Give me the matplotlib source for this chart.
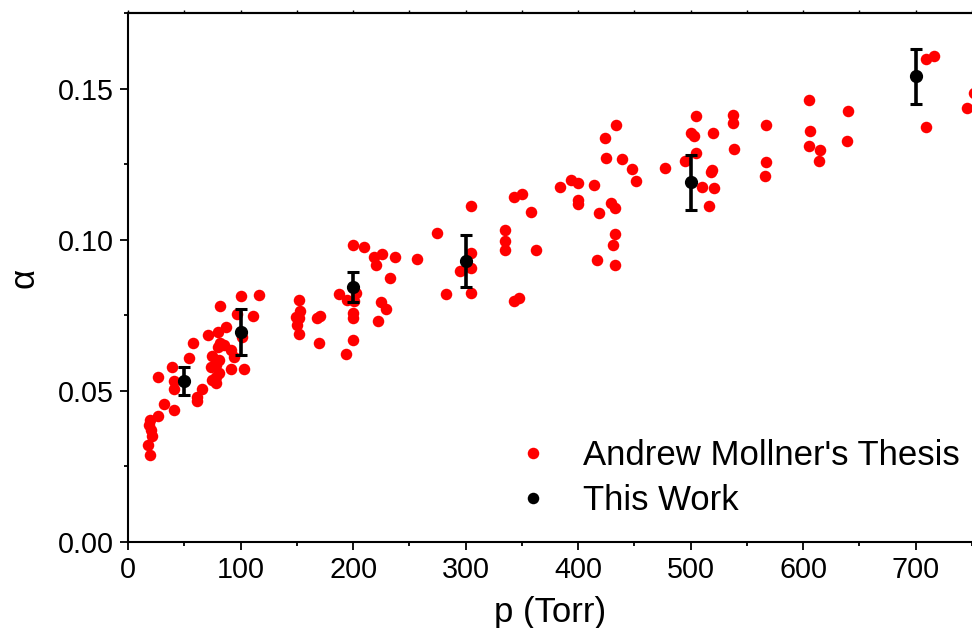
import matplotlib
matplotlib.use("Agg")
import matplotlib.pyplot as plt
from matplotlib.lines import Line2D
from matplotlib.ticker import MultipleLocator, FormatStrFormatter

plt.rcParams['font.family'] = ['Liberation Sans', 'DejaVu Sans']

# Mollner thesis data: pressure (Torr) and alpha
thesis_p = [
    100.1, 116.3, 81.7, 96.5, 111.4, 86.8, 79.9, 71.0, 101.6, 57.7,
    81.7, 91.2, 75.0, 54.2, 94.1, 80.8, 73.4, 91.2, 103.0, 39.4,
    26.6, 40.9, 77.9, 77.9, 40.9, 66.1, 61.6, 61.6, 32.0, 40.9,
    26.6, 19.5, 18.6, 20.8, 21.7, 17.8, 19.5, 77.9, 79.9, 85.3,
    75.0, 80.8,
    151.9, 152.8, 148.9, 151.9, 150.4, 151.9, 167.6, 170.2, 169.6,
    199.8, 209.6, 225.6, 218.5, 237.1, 256.8, 220.0, 232.4, 187.4, 194.8,
    202.2, 200.9, 224.4, 229.7, 200.2, 200.2, 222.4, 200.2, 193.3,
    274.8, 305.0, 305.0, 294.8, 305.0, 282.2, 304.4,
    335.4, 335.4, 335.4, 363.0, 342.8, 347.2, 342.8, 350.1, 358.5,
    383.6, 394.0, 400.0, 413.9, 399.8, 399.8, 423.6, 433.7, 424.7, 439.3,
    447.6, 451.8, 429.1, 433.1, 418.3, 433.1, 431.3, 416.9, 433.1,
    476.9, 494.7, 504.8, 500.6, 503.3, 504.8, 519.7, 510.1, 521.0, 518.8,
    517.9, 516.0,
    537.7, 537.7, 538.8, 567.0, 567.0, 565.7,
    604.8, 605.7, 604.8, 615.2, 614.0, 639.8, 639.2,
    709.3, 715.8, 709.3, 752.0, 746.0,
]
thesis_alpha = [
    0.0813, 0.0817, 0.0780, 0.0756, 0.0748, 0.0712, 0.0695, 0.0685, 0.0679, 0.0660,
    0.0659, 0.0635, 0.0615, 0.0609, 0.0613, 0.0602, 0.0578, 0.0574, 0.0574, 0.0578,
    0.0547, 0.0533, 0.0547, 0.0525, 0.0508, 0.0505, 0.0480, 0.0467, 0.0456, 0.0437,
    0.0417, 0.0403, 0.0387, 0.0370, 0.0351, 0.0321, 0.0288, 0.0585, 0.0646, 0.0651,
    0.0536, 0.0558,
    0.0800, 0.0766, 0.0745, 0.0743, 0.0718, 0.0688, 0.0743, 0.0747, 0.0659,
    0.0984, 0.0977, 0.0952, 0.0943, 0.0942, 0.0937, 0.0916, 0.0875, 0.0822, 0.0802,
    0.0824, 0.0797, 0.0793, 0.0770, 0.0757, 0.0740, 0.0731, 0.0670, 0.0622,
    0.1024, 0.1111, 0.0956, 0.0897, 0.0906, 0.0822, 0.0825,
    0.1032, 0.0995, 0.0966, 0.0966, 0.0798, 0.0806, 0.1142, 0.1152, 0.1092,
    0.1174, 0.1197, 0.1189, 0.1181, 0.1131, 0.1120, 0.1336, 0.1380, 0.1271, 0.1268,
    0.1236, 0.1195, 0.1122, 0.1104, 0.1089, 0.1019, 0.0982, 0.0935, 0.0918,
    0.1238, 0.1262, 0.1410, 0.1354, 0.1344, 0.1289, 0.1355, 0.1176, 0.1173, 0.1232,
    0.1225, 0.1113,
    0.1412, 0.1387, 0.1302, 0.1379, 0.1257, 0.1210,
    0.1464, 0.1361, 0.1310, 0.1299, 0.1261, 0.1426, 0.1327,
    0.1600, 0.1610, 0.1373, 0.1486, 0.1438,
]

# Present measurements with uncertainties
work_p = [50, 100, 200, 300, 500, 700]
work_alpha = [0.0533, 0.0695, 0.0844, 0.0929, 0.1190, 0.1541]
work_err = [0.0047, 0.0076, 0.0051, 0.0086, 0.0090, 0.0090]

W, H = 972, 628
fig = plt.figure(figsize=(W / 100, H / 100), dpi=100)
ax = fig.add_axes([128 / W, 1 - 542 / H, (W - 128) / W, (542 - 13.3) / H])

ax.plot(thesis_p, thesis_alpha, 'o', color='#ff0000', markersize=8.3,
        markeredgewidth=0, linestyle='none', zorder=2)
ax.errorbar(work_p, work_alpha, yerr=work_err, fmt='o', color='black',
            markersize=8.5, elinewidth=2.6, capsize=4.5, capthick=2.2,
            zorder=3)

ax.set_xlim(0, 750)
ax.set_ylim(0, 0.175)

ax.xaxis.set_major_locator(MultipleLocator(100))
ax.xaxis.set_minor_locator(MultipleLocator(50))
ax.yaxis.set_major_locator(MultipleLocator(0.05))
ax.yaxis.set_minor_locator(MultipleLocator(0.025))
ax.yaxis.set_major_formatter(FormatStrFormatter('%.2f'))

for side in ('left', 'bottom', 'top'):
    ax.spines[side].set_linewidth(1.5)
ax.spines['right'].set_visible(False)

ax.tick_params(which='major', direction='out', length=6, width=1.3,
               labelsize=20.7, pad=4, top=False, right=False)
ax.tick_params(which='minor', direction='out', length=3, width=1.3,
               top=False, right=False)

top = ax.secondary_xaxis('top')
top.xaxis.set_major_locator(MultipleLocator(50))
top.tick_params(which='both', direction='out', length=2, width=1.0,
                labeltop=False)
top.spines['top'].set_linewidth(1.5)

ax.set_xlabel('p (Torr)', fontsize=25, labelpad=9)
ax.set_ylabel('α', fontsize=25)
ax.yaxis.set_label_coords(-0.104, 0.5)

handles = [
    Line2D([], [], marker='o', linestyle='none', color='#ff0000',
           markeredgewidth=0, markersize=8.3),
    Line2D([], [], marker='o', linestyle='none', color='black',
           markeredgewidth=0, markersize=8.3),
]
labels = ["Andrew Mollner's Thesis", 'This Work']
ax.legend(handles, labels, loc='upper left',
          bbox_to_anchor=(515.5 / W, 1 - 439 / H),
          bbox_transform=fig.transFigure, frameon=False, fontsize=25,
          borderpad=0, borderaxespad=0, handlelength=1.0,
          handletextpad=0.93, labelspacing=0.34, numpoints=1)

fig.savefig('out.png', dpi=100)
